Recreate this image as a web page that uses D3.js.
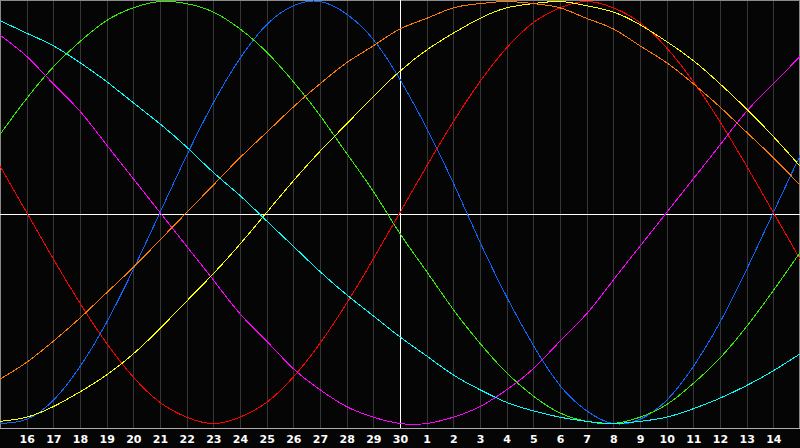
<!DOCTYPE html>
<html>
<head>
<meta charset="utf-8">
<title>Biorhythm</title>
<script src="https://cdn.jsdelivr.net/npm/d3@7"></script>
<style>
    body { margin: 0; background: #050505; }
    .x-axis text {
        font-family: "DejaVu Sans", sans-serif;
        font-size: 11px;
        font-weight: bold;
        fill: #ffffff;
    }
</style>
</head>
<body>
<div class="bio-chart"></div>
<script>

// Days shown on the chart (15th to 15th of the next month)
var days = [15, 16, 17, 18, 19, 20, 21, 22, 23, 24, 25, 26, 27, 28, 29, 30,
            1, 2, 3, 4, 5, 6, 7, 8, 9, 10, 11, 12, 13, 14, 15];

// Cycle values in percent, one per day
var physical     = [-100, -98, -89, -73, -52, -27, 0, 27, 52, 73, 89, 98, 100, 94, 82, 63,
                    40, 14, -14, -40, -63, -82, -94, -100, -98, -89, -73, -52, -27, 0, 27];
var emotional    = [22, 0, -22, -43, -62, -78, -90, -97, -100, -97, -90, -78, -62, -43, -22, 0,
                    22, 43, 62, 78, 90, 97, 100, 97, 90, 78, 62, 43, 22, 0, -22];
var intellectual = [37, 54, 69, 81, 91, 97, 100, 99, 95, 87, 76, 62, 46, 28, 10, -10,
                    -28, -46, -62, -76, -87, -95, -99, -100, -97, -91, -81, -69, -54, -37, -19];
var intuitive    = [84, 74, 61, 48, 32, 16, 0, -16, -32, -48, -61, -74, -84, -92, -97, -100,
                    -100, -97, -92, -84, -74, -61, -48, -32, -16, 0, 16, 32, 48, 61, 74];
var aesthetic    = [-99, -97, -92, -85, -77, -67, -55, -42, -29, -15, 0, 15, 29, 42, 55, 67,
                    77, 85, 92, 97, 99, 100, 98, 95, 89, 81, 72, 61, 49, 36, 22];
var awareness    = [-79, -71, -61, -50, -38, -26, -13, 0, 13, 26, 38, 50, 61, 71, 79, 87,
                    92, 97, 99, 100, 99, 97, 92, 87, 79, 71, 61, 50, 38, 26, 13];
var spiritual    = [91, 85, 79, 71, 62, 52, 42, 31, 19, 8, -4, -16, -28, -39, -49, -59,
                    -68, -77, -84, -90, -94, -97, -99, -100, -99, -97, -93, -88, -82, -75, -67];

var cycleNames  = ["physical", "emotional", "intellectual", "intuitive", "aesthetic", "awareness", "spiritual"];
var cycleColors = ["#0a66ff", "#ff0000", "#33ee00", "#ff00ff", "#ffff00", "#ff7a00", "#00ffff"];



/*
 * BioChart - Object constructor function
 * @param _parentElement  -- the HTML element in which to draw the chart
 * @param _days           -- day labels along the x axis
 * @param _series         -- array of value arrays, one for each cycle
 * @param _colors         -- line colour for each cycle
 */

BioChart = function(_parentElement, _days, _series, _colors){
    this.parentElement = _parentElement;
    this.days = _days;
    this.series = _series;
    this.colors = _colors;

    this.initVis();
}



/*
 * Initialize visualization (static content; e.g. SVG area, axes)
 */

BioChart.prototype.initVis = function(){
    var vis = this;

    vis.width = 800;
    vis.height = 428;

    vis.svg = d3.select("." + vis.parentElement).append("svg")
        .attr("width", 800)
        .attr("height", 448)
        .style("display", "block");

    vis.svg.append("rect")
        .attr("width", 800)
        .attr("height", 448)
        .attr("fill", "#050505");

    // Scales
    vis.x = d3.scaleLinear()
        .domain([0, vis.days.length - 1])
        .range([0, vis.width]);

    vis.y = d3.scaleLinear()
        .domain([-100, 100])
        .range([423.5, 1.5]);

    // Day grid lines
    vis.svg.append("g")
        .attr("class", "grid")
        .selectAll("line")
        .data(d3.range(1, vis.days.length - 1))
        .enter()
        .append("line")
        .attr("x1", function(d) { return Math.round(vis.x(d)) + 0.5; })
        .attr("x2", function(d) { return Math.round(vis.x(d)) + 0.5; })
        .attr("y1", 0)
        .attr("y2", vis.height)
        .attr("stroke", "#363636")
        .attr("shape-rendering", "crispEdges");

    // Frame
    vis.svg.append("rect")
        .attr("x", 0.5)
        .attr("y", 0.5)
        .attr("width", 798.5)
        .attr("height", vis.height)
        .attr("fill", "none")
        .attr("stroke", "#8a8a8a")
        .attr("shape-rendering", "crispEdges");

    vis.svg.append("line")
        .attr("x1", 0).attr("x2", vis.width)
        .attr("y1", vis.height + 0.5).attr("y2", vis.height + 0.5)
        .attr("stroke", "#b0b0b0")
        .attr("shape-rendering", "crispEdges");

    // Zero line and "today" line
    vis.svg.append("line")
        .attr("x1", 0).attr("x2", vis.width)
        .attr("y1", 214.5).attr("y2", 214.5)
        .attr("stroke", "#ffffff")
        .attr("shape-rendering", "crispEdges");

    vis.svg.append("line")
        .attr("x1", vis.x(15) + 0.5).attr("x2", vis.x(15) + 0.5)
        .attr("y1", 0).attr("y2", vis.height)
        .attr("stroke", "#ffffff")
        .attr("shape-rendering", "crispEdges");

    // x axis with the day numbers
    vis.xAxis = d3.axisBottom()
        .scale(vis.x)
        .tickValues(d3.range(1, vis.days.length - 1))
        .tickSize(0)
        .tickFormat(function(i) { return vis.days[i]; });

    vis.xAxisGroup = vis.svg.append("g")
        .attr("class", "x-axis axis")
        .attr("transform", "translate(0," + vis.height + ")");

    vis.updateVis();
}



/*
 * The drawing function
 */

BioChart.prototype.updateVis = function(){
    var vis = this;

    vis.line = d3.line()
        .x(function(d, i) { return vis.x(i); })
        .y(function(d) { return vis.y(d); })
        .curve(d3.curveNatural);

    vis.svg.selectAll(".cycle")
        .data(vis.series)
        .enter()
        .append("path")
        .attr("class", function(d, i) { return "cycle " + cycleNames[i]; })
        .attr("d", vis.line)
        .attr("fill", "none")
        .attr("stroke", function(d, i) { return vis.colors[i]; })
        .attr("stroke-width", 1)
        .attr("shape-rendering", "crispEdges");

    vis.xAxisGroup.call(vis.xAxis);
    vis.xAxisGroup.select(".domain").remove();
    vis.xAxisGroup.selectAll("text")
        .attr("y", 15)
        .attr("dy", 0);
}


var chart = new BioChart("bio-chart", days,
    [physical, emotional, intellectual, intuitive, aesthetic, awareness, spiritual],
    cycleColors);

</script>
</body>
</html>
